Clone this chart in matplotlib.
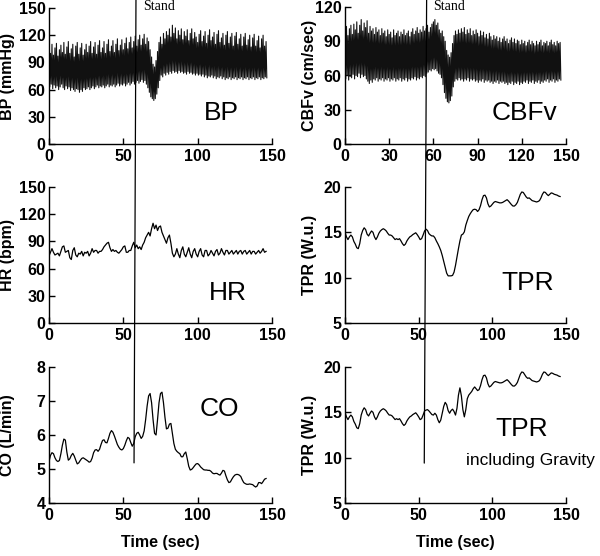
import numpy as np
import matplotlib
matplotlib.use("Agg")
import matplotlib.pyplot as plt
import matplotlib.transforms as mtransforms
from matplotlib.patches import ConnectionPatch

# ---------------- data (1 sample per second) ----------------
bp_sys = [108, 100, 110, 98, 106, 111, 97, 104, 109, 101,
          112, 99, 107, 113, 100, 105, 110, 96, 108, 112,
          99, 106, 111, 98, 104, 110, 101, 108, 113, 100,
          107, 112, 99, 109, 114, 101, 106, 113, 100, 110,
          115, 102, 108, 114, 101, 110, 116, 103, 109, 115,
          104, 111, 117, 105, 112, 118, 106, 113, 119, 108,
          115, 120, 109, 116, 121, 110, 117, 113, 104, 96,
          88, 85, 92, 102, 112, 118, 110, 122, 116, 124,
          120, 127, 118, 131, 122, 128, 116, 125, 120, 127,
          115, 124, 119, 126, 114, 122, 127, 116, 123, 118,
          112, 121, 125, 113, 119, 124, 111, 120, 126, 114,
          118, 123, 110, 121, 125, 112, 117, 122, 109, 120,
          124, 111, 118, 122, 108, 119, 123, 110, 116, 121,
          108, 118, 122, 109, 115, 120, 107, 117, 121, 108,
          114, 119, 106, 116, 120, 108, 113]
bp_dia = [63, 66, 61, 65, 62, 64, 60, 63, 66, 62,
          60, 64, 61, 63, 59, 62, 60, 58, 61, 60,
          57, 60, 58, 62, 60, 61, 63, 60, 62, 64,
          61, 63, 65, 62, 64, 63, 65, 62, 64, 66,
          63, 65, 64, 66, 63, 65, 67, 64, 66, 65,
          67, 64, 66, 68, 65, 67, 69, 66, 68, 70,
          67, 69, 71, 68, 70, 66, 62, 57, 52, 50,
          48, 50, 55, 62, 70, 76, 74, 78, 76, 79,
          77, 80, 78, 81, 79, 80, 78, 81, 79, 80,
          78, 79, 77, 80, 78, 79, 77, 78, 76, 78,
          76, 77, 75, 77, 74, 76, 73, 75, 74, 76,
          73, 75, 72, 74, 73, 75, 72, 74, 71, 73,
          72, 74, 71, 73, 72, 74, 71, 73, 72, 74,
          71, 73, 72, 74, 71, 73, 72, 74, 71, 73,
          72, 74, 71, 73, 72, 74, 73]

cbfv_sys = [98, 103, 95, 101, 104, 96, 105, 100, 107, 97,
            104, 109, 99, 106, 102, 108, 97, 103, 99, 101,
            96, 102, 98, 100, 95, 101, 97, 99, 94, 100,
            96, 98, 93, 100, 95, 97, 99, 94, 98, 96,
            100, 95, 97, 99, 94, 98, 101, 96, 99, 102,
            97, 100, 98, 103, 99, 101, 104, 98, 102, 105,
            107, 109, 104, 106, 100, 97, 99, 94, 90, 82,
            78, 76, 80, 88, 95, 99, 96, 100, 97, 101,
            98, 102, 96, 100, 97, 101, 95, 99, 96, 100,
            97, 94, 99, 95, 98, 93, 96, 92, 97, 94,
            91, 95, 92, 94, 90, 93, 89, 92, 94, 90,
            92, 88, 91, 93, 89, 92, 88, 91, 90, 87,
            91, 88, 90, 86, 89, 91, 87, 90, 88, 86,
            90, 87, 89, 91, 86, 89, 88, 90, 86, 89,
            91, 87, 89, 86, 90, 88, 89]
cbfv_dia = [57, 60, 56, 59, 58, 61, 57, 60, 59, 62,
            58, 61, 59, 60, 57, 55, 53, 56, 54, 57,
            56, 58, 55, 57, 56, 58, 55, 57, 56, 58,
            55, 57, 56, 58, 55, 57, 56, 58, 55, 57,
            56, 58, 55, 57, 56, 58, 57, 59, 56, 58,
            57, 59, 58, 60, 59, 62, 63, 65, 64, 66,
            65, 66, 64, 62, 61, 58, 52, 45, 40, 37,
            36, 38, 42, 50, 55, 57, 56, 58, 56, 57,
            55, 57, 56, 58, 55, 57, 56, 57, 55, 56,
            54, 56, 55, 57, 54, 56, 55, 56, 54, 55,
            53, 55, 54, 56, 53, 55, 54, 55, 53, 54,
            52, 54, 53, 55, 52, 54, 53, 55, 52, 54,
            53, 55, 54, 56, 53, 55, 54, 56, 53, 55,
            54, 56, 53, 55, 54, 56, 55, 57, 54, 56,
            55, 57, 54, 56, 55, 57, 56]

hr = [74, 78, 82, 78, 75, 76, 77, 74, 79, 84,
      85, 78, 79, 80, 72, 70, 80, 83, 75, 73,
      77, 76, 79, 74, 78, 77, 79, 74, 77, 82,
      78, 80, 80, 77, 79, 79, 81, 84, 86, 88,
      89, 83, 79, 81, 79, 80, 78, 77, 79, 81,
      84, 85, 78, 78, 80, 80, 85, 89, 83, 86,
      82, 84, 81, 86, 89, 94, 97, 100, 96, 104,
      110, 104, 108, 102, 106, 107, 100, 96, 92, 88,
      94, 97, 88, 77, 73, 76, 82, 76, 72, 80,
      84, 76, 73, 78, 83, 76, 72, 79, 82, 76,
      73, 79, 82, 75, 73, 80, 80, 74, 76, 80,
      77, 74, 79, 81, 75, 77, 82, 78, 75, 80,
      80, 76, 78, 80, 76, 78, 80, 76, 79, 80,
      76, 79, 80, 76, 78, 80, 76, 79, 79, 76,
      78, 80, 77, 79, 82, 78, 79]

tpr = [15.0, 14.5, 14.2, 14.5, 14.7, 14.5, 14.0, 13.7, 13.3, 13.2,
       13.75, 14.7, 15.2, 15.5, 15.3, 14.8, 14.6, 14.9, 15.15, 15.0,
       14.5, 14.2, 14.5, 14.9, 15.15, 15.3, 15.4, 15.3, 15.15, 14.9,
       14.7, 14.7, 14.6, 14.4, 14.2, 14.3, 14.2, 14.3, 14.05, 13.75,
       13.55, 13.7, 14.05, 14.3, 14.5, 14.6, 14.75, 14.85, 14.95, 14.75,
       14.5, 14.2, 14.3, 14.7, 15.15, 15.35, 15.2, 14.85, 14.7, 14.6,
       14.6, 14.4, 14.05, 13.75, 13.4, 13.0, 12.45, 11.8, 11.2, 10.5,
       10.2, 10.2, 10.2, 10.25, 10.6, 11.35, 12.3, 13.2, 14.05, 14.7,
       14.8, 15.05, 15.8, 16.3, 16.75, 17.05, 17.3, 17.5, 17.55, 17.5,
       17.3, 17.5, 17.95, 18.6, 19.05, 19.1, 18.8, 18.15, 17.8, 17.9,
       18.1, 18.3, 18.4, 18.35, 18.3, 18.25, 18.25, 18.3, 18.4, 18.5,
       18.6, 18.45, 18.25, 18.05, 17.9, 17.9, 18.05, 18.3, 18.75, 19.2,
       19.45, 19.4, 19.15, 18.9, 18.75, 18.8, 18.65, 18.5, 18.45, 18.4,
       18.35, 18.4, 18.5, 18.8, 19.2, 19.45, 19.4, 19.2, 19.05, 19.2,
       19.35, 19.3, 19.2, 19.15, 19.1, 19.0, 18.95]

# TPR including gravity: same as TPR before ~55 s and after ~91 s
tpr_grav_mid = [15.25, 15.3, 15.15, 14.95, 14.75, 14.7, 14.9, 14.7, 14.2, 13.85,
                14.15, 14.9, 15.65, 16.1, 15.85, 15.2, 14.9, 15.2, 15.35, 15.1,
                14.7, 15.45, 16.9, 17.7, 16.8, 15.3, 14.5, 15.3, 16.5, 16.9,
                17.1, 17.3, 17.6, 17.8, 17.6, 17.4]
tpr_grav = tpr[:55] + tpr_grav_mid + tpr[91:]

co = [5.22, 5.40, 5.48, 5.45, 5.33, 5.25, 5.22, 5.25, 5.45, 5.70,
      5.88, 5.85, 5.50, 5.26, 5.30, 5.40, 5.46, 5.38, 5.26, 5.15,
      5.18, 5.25, 5.31, 5.33, 5.30, 5.27, 5.24, 5.20, 5.22, 5.32,
      5.48, 5.56, 5.57, 5.52, 5.58, 5.72, 5.84, 5.86, 5.78, 5.77,
      5.90, 6.05, 6.13, 6.08, 5.97, 5.84, 5.72, 5.64, 5.58, 5.56,
      5.60, 5.70, 5.83, 5.93, 5.90, 5.78, 5.67, 5.75, 5.95, 6.05,
      6.08, 6.00, 5.90, 5.96, 6.12, 6.45, 6.85, 7.15, 7.22, 6.95,
      6.45, 6.05, 6.00, 6.45, 6.95, 7.22, 7.26, 6.95, 6.52, 6.18,
      6.20, 6.32, 6.34, 6.05, 5.75, 5.58, 5.52, 5.48, 5.45, 5.36,
      5.36, 5.45, 5.50, 5.30, 5.08, 4.97, 4.99, 5.04, 5.10, 5.15,
      5.16, 5.12, 5.06, 5.02, 4.98, 4.97, 4.97, 4.96, 4.96, 4.93,
      4.88, 4.86, 4.87, 4.87, 4.84, 4.82, 4.88, 4.96, 4.94, 4.80,
      4.68, 4.60, 4.62, 4.70, 4.77, 4.82, 4.84, 4.84, 4.82, 4.78,
      4.68, 4.60, 4.57, 4.55, 4.55, 4.56, 4.55, 4.54, 4.50, 4.47,
      4.50, 4.60, 4.60, 4.57, 4.63, 4.70, 4.72]

# "Stand" marker: time at top of column, time at bottom, and value where it ends
stand_top = [58.5, 55.4]
stand_bottom = [57.2, 53.8]
stand_end = [5.18, 9.4]
stand_label_x = [63.0, 59.7]

left_xticks = [0, 50, 100, 150]
cbfv_xticks = [0, 30, 60, 90, 120, 150]
bp_yticks = [0, 30, 60, 90, 120, 150]
hr_yticks = [0, 30, 60, 90, 120, 150]
co_yticks = [4, 5, 6, 7, 8]
cbfv_yticks = [0, 30, 60, 90, 120]
tpr_yticks = [5, 10, 15, 20]

# ---------------- figure ----------------
plt.rcParams['font.family'] = ['Liberation Sans', 'DejaVu Sans']
fig = plt.figure(figsize=(6.0, 5.56), dpi=100)

W, H = 600.0, 556.0
def make_ax(x0, x1, ytop, ybot):
    return fig.add_axes([x0 / W, 1 - ybot / H, (x1 - x0) / W, (ybot - ytop) / H])

ax_bp = make_ax(49, 272, 8, 144)
ax_hr = make_ax(49, 272, 187, 323)
ax_co = make_ax(49, 272, 367, 503)
ax_cb = make_ax(345, 566, 7, 144)
ax_tp = make_ax(345, 566, 187, 323)
ax_tg = make_ax(345, 566, 367, 503)

def zigzag(sysv, diav):
    t = np.arange(len(sysv))
    x = np.column_stack([t, t + 0.5]).ravel()
    y = np.column_stack([sysv, diav]).ravel()
    return x, y

x, y = zigzag(bp_sys, bp_dia)
ax_bp.plot(x, y, color='#111111', lw=0.8)
x, y = zigzag(cbfv_sys, cbfv_dia)
ax_cb.plot(x, y, color='#111111', lw=0.8)
ax_hr.plot(np.arange(len(hr)), hr, color='black', lw=0.9)
ax_co.plot(np.arange(len(co)), co, color='black', lw=0.9)
ax_tp.plot(np.arange(len(tpr)), tpr, color='black', lw=0.9)
ax_tg.plot(np.arange(len(tpr_grav)), tpr_grav, color='black', lw=0.9)

tick_font = dict(family='Liberation Sans', weight='bold', size=11.5)
specs = [
    (ax_bp, (0, 150), bp_yticks, left_xticks, 'BP (mmHg)', -0.152),
    (ax_hr, (0, 150), hr_yticks, left_xticks, 'HR (bpm)', -0.152),
    (ax_co, (4, 8), co_yticks, left_xticks, 'CO (L/min)', -0.152),
    (ax_cb, (0, 120), cbfv_yticks, cbfv_xticks, 'CBFv (cm/sec)', -0.127),
    (ax_tp, (5, 20), tpr_yticks, left_xticks, 'TPR (W.u.)', -0.127),
    (ax_tg, (5, 20), tpr_yticks, left_xticks, 'TPR (W.u.)', -0.127),
]
for ax, ylim, yt, xt, ylab, lx in specs:
    ax.set_xlim(0, 150)
    ax.set_ylim(*ylim)
    ax.set_xticks(xt)
    ax.set_yticks(yt)
    ax.set_xticklabels([str(v) for v in xt], fontdict=tick_font)
    ax.set_yticklabels([str(v) for v in yt], fontdict=tick_font)
    for s in ('top', 'right'):
        ax.spines[s].set_visible(False)
    for s in ('left', 'bottom'):
        ax.spines[s].set_linewidth(1.0)
    ax.tick_params(direction='in', length=4, width=1.0)
    ax.tick_params(axis='y', pad=2.5)
    ax.tick_params(axis='x', pad=3.5)
    ax.set_ylabel(ylab, fontdict=tick_font)
    ax.yaxis.set_label_coords(lx, 0.5)
    ax.patch.set_alpha(0)

for ax in (ax_co, ax_tg):
    ax.set_xlabel('Time (sec)', fontdict=tick_font)
    ax.xaxis.set_label_coords(0.5, -0.235)

big = dict(family='Liberation Sans', size=19, ha='center', va='center')
ax_bp.text(0.773, 0.228, 'BP', transform=ax_bp.transAxes, **big)
ax_cb.text(0.81, 0.228, 'CBFv', transform=ax_cb.transAxes, **big)
ax_hr.text(0.803, 0.223, 'HR', transform=ax_hr.transAxes, **big)
ax_tp.text(0.826, 0.294, 'TPR', transform=ax_tp.transAxes, **big)
ax_co.text(0.762, 0.69, 'CO', transform=ax_co.transAxes, **big)
ax_tg.text(0.80, 0.544, 'TPR', transform=ax_tg.transAxes, **big)
ax_tg.text(0.84, 0.316, 'including Gravity', transform=ax_tg.transAxes,
           family='Liberation Sans', size=12.5, ha='center', va='center')

# Stand lines spanning from top of figure down to bottom panels
for ax_top, ax_bot, i in ((ax_bp, ax_co, 0), (ax_cb, ax_tg, 1)):
    tr = mtransforms.blended_transform_factory(ax_top.transData, fig.transFigure)
    con = ConnectionPatch(xyA=(stand_top[i], 1.0), coordsA=tr,
                          xyB=(stand_bottom[i], stand_end[i]), coordsB=ax_bot.transData,
                          color='black', lw=0.9)
    fig.add_artist(con)
    ax_top.text(stand_label_x[i], 1 - 9.5 / H, 'Stand', transform=tr,
                family='Liberation Serif', size=10, ha='left', va='baseline')

fig.savefig('out.png', dpi=100)
